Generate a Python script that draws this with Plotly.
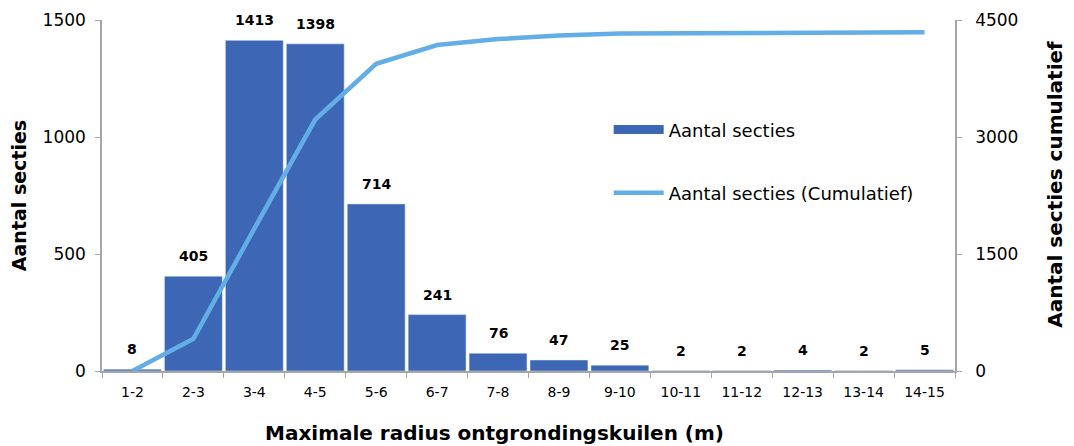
import plotly.graph_objects as go

categories = ["1-2", "2-3", "3-4", "4-5", "5-6", "6-7", "7-8", "8-9", "9-10",
              "10-11", "11-12", "12-13", "13-14", "14-15"]
counts = [8, 405, 1413, 1398, 714, 241, 76, 47, 25, 2, 2, 4, 2, 5]
cumulative = [0, 413, 1826, 3224, 3938, 4179, 4255, 4302, 4327, 4329, 4331, 4335, 4337, 4342]

bar_color = "#3D67B5"
line_color = "#63AEE6"
axis_color = "#A6A6A6"
font = "DejaVu Sans"

fig = go.Figure()
fig.add_trace(go.Bar(
    x=categories, y=counts, marker_color=bar_color, showlegend=False,
))
fig.add_trace(go.Scatter(
    x=categories, y=cumulative, yaxis="y2", mode="lines",
    line={"color": line_color, "width": 4.5}, name="Aantal secties (Cumulatief)",
    legend="legend2",
))
# legend entry drawn as a wide block like the original
fig.add_trace(go.Scatter(
    x=[categories[0]], y=[None], mode="lines", line={"color": bar_color, "width": 9},
    name="Aantal secties", legend="legend",
))

for cat, val in zip(categories, counts):
    fig.add_annotation(
        x=cat, y=val, text=f"<b>{val}</b>", showarrow=False, yshift=20,
        font={"family": font, "size": 14, "color": "black"},
    )

# axis titles placed as in the original (slightly off-centre)
fig.add_annotation(
    x=0.46, y=-0.177, xref="paper", yref="paper", showarrow=False,
    xanchor="center", yanchor="middle",
    text="<b>Maximale radius ontgrondingskuilen (m)</b>",
    font={"family": font, "size": 20, "color": "black"},
)
fig.add_annotation(
    x=1.117, y=0.533, xref="paper", yref="paper", showarrow=False, textangle=-90,
    xanchor="center", yanchor="middle",
    text="<b>Aantal secties cumulatief</b>",
    font={"family": font, "size": 20, "color": "black"},
)

axis_common = {
    "showgrid": False, "zeroline": False, "showline": True, "automargin": False,
    "linecolor": axis_color, "linewidth": 1.5, "ticks": "outside",
    "tickcolor": axis_color, "ticklen": 5, "ticklabelstandoff": 6,
    "tickfont": {"family": font, "size": 17, "color": "black"},
}

# page body adds an 8px margin, so the figure is sized to sit inside the window
fig.update_layout(
    width=1058, height=438,
    margin={"l": 94, "r": 111, "t": 12, "b": 75},
    paper_bgcolor="white", plot_bgcolor="white",
    bargap=0.05,
    font={"family": font, "color": "black"},
    xaxis={**axis_common, "type": "category", "tickson": "boundaries",
           "categoryorder": "array", "categoryarray": categories,
           "ticklabelstandoff": 7,
           "tickfont": {"family": font, "size": 14, "color": "black"}},
    yaxis={**axis_common, "range": [0, 1500], "tickvals": [0, 500, 1000, 1500],
           "title": {"text": "<b>Aantal secties</b>", "font": {"size": 19}, "standoff": 20}},
    yaxis2={**axis_common, "range": [0, 4500], "tickvals": [0, 1500, 3000, 4500],
            "overlaying": "y", "side": "right", "ticklabelstandoff": 10},
    legend={"x": 0.594, "y": 0.687, "xanchor": "left", "yanchor": "middle",
            "bgcolor": "rgba(0,0,0,0)", "font": {"family": font, "size": 18}, "itemwidth": 50},
    legend2={"x": 0.594, "y": 0.507, "xanchor": "left", "yanchor": "middle",
             "bgcolor": "rgba(0,0,0,0)", "font": {"family": font, "size": 18}, "itemwidth": 50},
)

fig.write_html("out.html")
